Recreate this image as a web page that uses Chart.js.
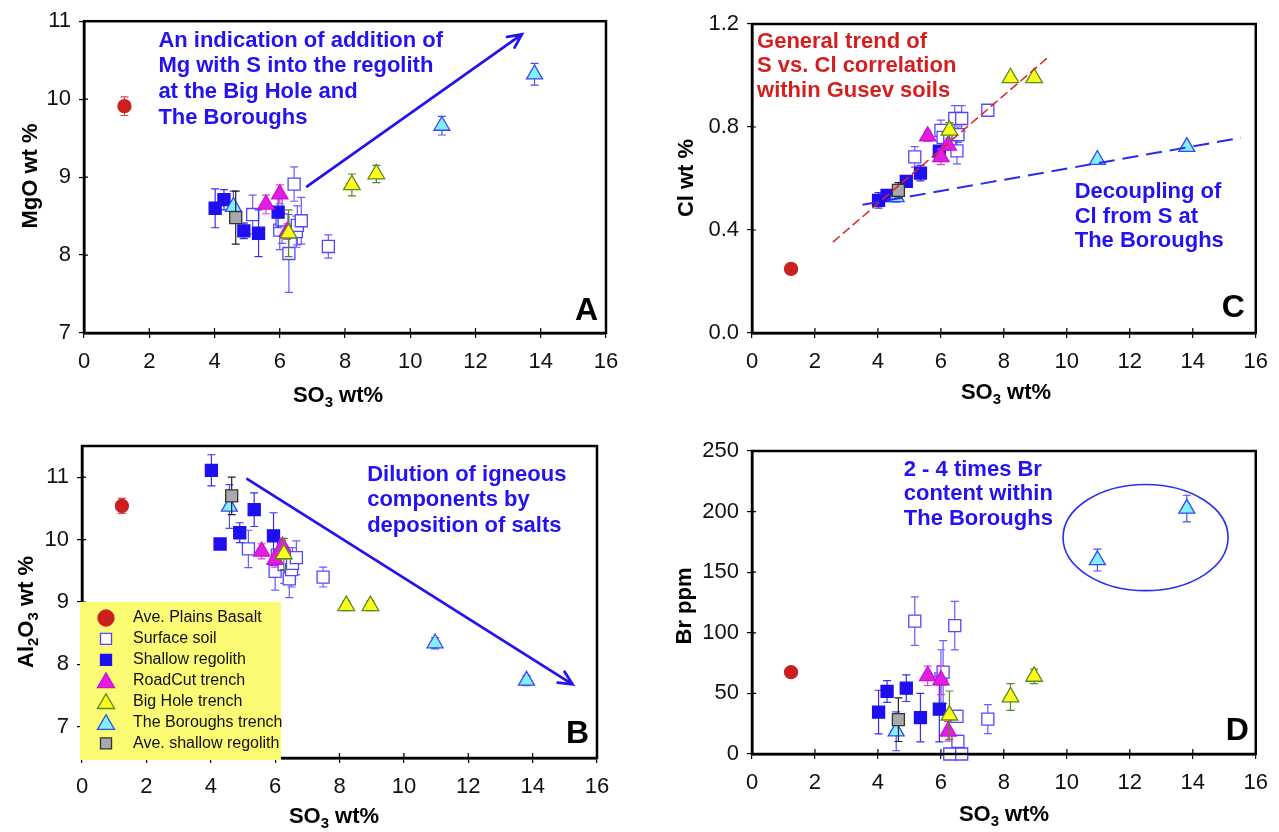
<!DOCTYPE html>
<html>
<head>
<meta charset="utf-8">
<script src="https://cdn.jsdelivr.net/npm/chart.js@4.4.1/dist/chart.umd.min.js"></script>
<style>
    html, body { margin: 0; padding: 0; background: #fff; }
    #wrap { position: relative; width: 1279px; height: 832px; overflow: hidden; }
    canvas { position: absolute; }
</style>
</head>
<body>
<div id="wrap">
    <canvas id="cA" width="640" height="416" style="left:0;top:0"></canvas>
    <canvas id="cC" width="639" height="416" style="left:640px;top:0"></canvas>
    <canvas id="cB" width="640" height="416" style="left:0;top:416px"></canvas>
    <canvas id="cD" width="639" height="416" style="left:640px;top:416px"></canvas>
</div>
<script>
// ---------- data ----------

// SO3 wt% of each sample group (x axis on every panel)
var basaltSO3     = [1.24];
var soilSO3       = [5.17, 6.00, 6.07, 6.28, 6.44, 6.51, 6.54, 6.66, 7.49];
var shallowSO3    = [4.02, 4.29, 4.90, 5.35, 5.95];
var roadcutSO3    = [5.58, 6.00, 6.23];
var bigholeSO3    = [6.27, 8.21, 8.96];
var boroughsSO3   = [4.58, 10.97, 13.81];
var aveShallowSO3 = [4.65];

// panel A: MgO wt% and 1-sigma
var basaltMgO     = [9.91];
var soilMgO       = [8.52, 8.32, 8.45, 8.02, 8.91, 8.30, 8.38, 8.44, 8.11];
var shallowMgO    = [8.60, 8.71, 8.31, 8.28, 8.55];
var roadcutMgO    = [8.65, 8.78, 8.30];
var bigholeMgO    = [8.28, 8.90, 9.04];
var boroughsMgO   = [8.62, 9.66, 10.32];
var aveShallowMgO = [8.48];
var basaltMgOErr     = [0.12];
var soilMgOErr       = [0.25, 0.25, 0.30, 0.50, 0.22, 0.20, 0.25, 0.30, 0.15];
var shallowMgOErr    = [0.25, 0.13, 0.10, 0.30, 0.20];
var roadcutMgOErr    = [0.12, 0.12, 0.10];
var bigholeMgOErr    = [0.30, 0.14, 0.11];
var boroughsMgOErr   = [0.20, 0.12, 0.14];
var aveShallowMgOErr = [0.34];

// panel B: Al2O3 wt%
var basaltAl     = [10.54];
var soilAl       = [9.85, 9.49, 9.75, 9.60, 9.37, 9.52, 9.62, 9.71, 9.40];
var shallowAl    = [11.11, 9.93, 10.11, 10.48, 10.06];
var roadcutAl    = [9.81, 9.68, 9.89];
var bigholeAl    = [9.77, 8.94, 8.94];
var boroughsAl   = [10.53, 8.34, 7.74];
var aveShallowAl = [10.70];
var basaltAlErr     = [0.12];
var soilAlErr       = [0.30, 0.30, 0.25, 0.30, 0.30, 0.28, 0.25, 0.27, 0.16];
var shallowAlErr    = [0.25, 0.08, 0.16, 0.27, 0.37];
var roadcutAlErr    = [0.12, 0.12, 0.10];
var bigholeAlErr    = [0.25, 0.08, 0.08];
var boroughsAlErr   = [0.35, 0.09, 0.08];
var aveShallowAlErr = [0.30];

// panel C: Cl wt%
var basaltCl     = [0.249];
var soilCl       = [0.684, 0.787, 0.760, 0.750, 0.833, 0.707, 0.770, 0.833, 0.865];
var shallowCl    = [0.515, 0.534, 0.589, 0.621, 0.706];
var roadcutCl    = [0.764, 0.684, 0.729];
var bigholeCl    = [0.787, 0.991, 0.991];
var boroughsCl   = [0.528, 0.673, 0.723];
var aveShallowCl = [0.554];
var basaltClErr     = [0.01];
var soilClErr       = [0.04, 0.04, 0.03, 0.03, 0.05, 0.05, 0.03, 0.05, 0.02];
var shallowClErr    = [0.03, 0.02, 0.02, 0.03, 0.02];
var roadcutClErr    = [0.02, 0.03, 0.02];
var bigholeClErr    = [0.03, 0.01, 0.01];
var boroughsClErr   = [0.02, 0.01, 0.01];
var aveShallowClErr = [0.03];

// panel D: Br ppm
var basaltBr     = [67.5];
var soilBr       = [109.7, 62, 67.5, 0, 105.9, 31, 10.4, 0, 28.8];
var shallowBr    = [34.6, 51.6, 54.3, 30, 37];
var roadcutBr    = [64.5, 61, 18.7];
var bigholeBr    = [32, 47, 64];
var boroughsBr   = [18.7, 160, 202.5];
var aveShallowBr = [28.3];
var basaltBrErr     = [4];
var soilBrErr       = [20, 24, 26, 3, 20, 5, 5, 3, 12];
var shallowBrErr    = [18, 9, 11, 20, 27];
var roadcutBrErr    = [8, 12, 8];
var bigholeBrErr    = [20, 11, 6];
var boroughsBrErr   = [16, 9, 11];
var aveShallowBrErr = [18];

// axis ticks
var so3Ticks = [0, 2, 4, 6, 8, 10, 12, 14, 16];
var mgoTicks = [7, 8, 9, 10, 11];
var alTicks  = [7, 8, 9, 10, 11];
var clTicks  = [0, 0.4, 0.8, 1.2];
var brTicks  = [0, 50, 100, 150, 200, 250];

// annotation geometry, in data units
var arrowA    = [[6.84, 8.88], [13.42, 10.83]];
var arrowB    = [[5.14, 10.97], [15.24, 7.68]];
var trendRed  = [[2.57, 0.353], [9.40, 1.07]];
var trendBlue = [[3.51, 0.498], [15.53, 0.758]];
var ellipseD  = [12.5, 178.6, 2.62, 43.8];   // cx, cy, rx, ry

// ---------- styling ----------
var FONT = '"Liberation Sans", Arial, Helvetica, sans-serif';
var TXT_BLUE = '#2412f0';
var TXT_RED = '#d41f1f';

// first entry is drawn on top
var series = [
    {key: 'aveShallow', label: 'Ave. shallow regolith', style: 'rect', r: 8.5, fill: '#a9a9a9', line: '#333333', bar: '#222222', lr: 7.8},
    {key: 'boroughs', label: 'The Boroughs trench', style: 'triangle', r: 9.2, fill: '#80f2ff', line: '#3a46ee', bar: '#4a50ee', lr: 9.8},
    {key: 'bighole', label: 'Big Hole trench', style: 'triangle', r: 9.6, fill: '#ffff1e', line: '#5a8a1a', bar: '#4f8a22', lr: 9.8},
    {key: 'roadcut', label: 'RoadCut trench', style: 'triangle', r: 9.4, fill: '#e21ee2', line: '#d010d0', bar: '#e040e0', lr: 9.8},
    {key: 'basalt', label: 'Ave. Plains Basalt', style: 'circle', r: 6.5, fill: '#cc1f1f', line: '#cc1f1f', bar: '#e04848', lr: 8},
    {key: 'shallow', label: 'Shallow regolith', style: 'rect', r: 8.5, fill: '#1d0ff0', line: '#1d0ff0', bar: '#3a2cf4', lr: 7.8},
    {key: 'soil', label: 'Surface soil', style: 'rect', r: 8.5, fill: '#ffffff', line: '#5446ff', bar: '#6a5cff', lr: 7.8}
];
var legendOrder = ['basalt', 'soil', 'shallow', 'roadcut', 'bighole', 'boroughs', 'aveShallow'];

var so3 = {basalt: basaltSO3, soil: soilSO3, shallow: shallowSO3, roadcut: roadcutSO3,
    bighole: bigholeSO3, boroughs: boroughsSO3, aveShallow: aveShallowSO3};

function buildDatasets(vals, errs) {
    return series.map(function (s) {
        return {
            label: s.label,
            data: so3[s.key].map(function (x, i) { return {x: x, y: vals[s.key][i]}; }),
            err: errs[s.key],
            barColor: s.bar,
            pointStyle: s.style,
            pointRadius: s.r,
            pointBackgroundColor: s.fill,
            pointBorderColor: s.line,
            pointBorderWidth: 1.3,
            clip: false
        };
    });
}

function trendSet(pts, color, dash, width) {
    return {
        data: pts.map(function (p) { return {x: p[0], y: p[1]}; }),
        showLine: true, pointRadius: 0, borderColor: color, borderWidth: width,
        borderDash: dash, fill: false, clip: false
    };
}

// ---------- drawing helpers ----------
function subWidth(ctx, parts, size) {
    var w = 0;
    parts.forEach(function (p) {
        ctx.font = 'bold ' + (p[1] ? Math.round(size * 0.68) : size) + 'px ' + FONT;
        w += ctx.measureText(p[0]).width;
    });
    return w;
}

// parts: [[text, isSubscript], ...], centred on cx, cy
function drawSubText(ctx, parts, size, cx, cy) {
    var x = cx - subWidth(ctx, parts, size) / 2;
    ctx.textAlign = 'left';
    ctx.textBaseline = 'middle';
    parts.forEach(function (p) {
        ctx.font = 'bold ' + (p[1] ? Math.round(size * 0.68) : size) + 'px ' + FONT;
        ctx.fillText(p[0], x, cy + (p[1] ? size * 0.32 : 0));
        x += ctx.measureText(p[0]).width;
    });
}

function drawArrow(ctx, x1, y1, x2, y2, color) {
    var ang = Math.atan2(y2 - y1, x2 - x1), len = 15, spread = 0.45;
    ctx.save();
    ctx.strokeStyle = color;
    ctx.lineWidth = 2.8;
    ctx.lineCap = 'round';
    ctx.beginPath();
    ctx.moveTo(x1, y1);
    ctx.lineTo(x2, y2);
    ctx.moveTo(x2 - len * Math.cos(ang - spread), y2 - len * Math.sin(ang - spread));
    ctx.lineTo(x2, y2);
    ctx.lineTo(x2 - len * Math.cos(ang + spread), y2 - len * Math.sin(ang + spread));
    ctx.stroke();
    ctx.restore();
}

var decoPlugin = {
    id: 'deco',
    beforeDatasetDraw: function (chart, args) {
        var ds = chart.data.datasets[args.index];
        if (!ds.err) return;
        var ctx = chart.ctx, xs = chart.scales.x, ys = chart.scales.y;
        ctx.save();
        ctx.strokeStyle = ds.barColor;
        ctx.lineWidth = 1.2;
        ds.data.forEach(function (p, i) {
            var e = ds.err[i];
            if (!e) return;
            var px = xs.getPixelForValue(p.x);
            var y1 = ys.getPixelForValue(p.y + e), y2 = ys.getPixelForValue(p.y - e);
            ctx.beginPath();
            ctx.moveTo(px, y1); ctx.lineTo(px, y2);
            ctx.moveTo(px - 4, y1); ctx.lineTo(px + 4, y1);
            ctx.moveTo(px - 4, y2); ctx.lineTo(px + 4, y2);
            ctx.stroke();
        });
        ctx.restore();
    },
    afterDraw: function (chart) {
        var o = chart.options.plugins.deco, ctx = chart.ctx, ca = chart.chartArea;
        var xs = chart.scales.x, ys = chart.scales.y;
        function px(v) { return xs.getPixelForValue(v); }
        function py(v) { return ys.getPixelForValue(v); }

        ctx.save();
        // frame and inner tick marks
        ctx.strokeStyle = '#000';
        ctx.lineWidth = 2.5;
        ctx.strokeRect(ca.left, ca.top, ca.right - ca.left, ca.bottom - ca.top);
        ctx.lineWidth = 1.2;
        ctx.beginPath();
        o.xTicks.forEach(function (v) { ctx.moveTo(px(v), ca.bottom); ctx.lineTo(px(v), ca.bottom - 5); });
        o.yTicks.forEach(function (v) { ctx.moveTo(ca.left, py(v)); ctx.lineTo(ca.left + 4, py(v)); });
        ctx.stroke();

        // arrows
        (o.arrows || []).forEach(function (a) {
            drawArrow(ctx, px(a[0][0]), py(a[0][1]), px(a[1][0]), py(a[1][1]), TXT_BLUE);
        });

        // ellipse
        if (o.ellipse) {
            var e = o.ellipse;
            var ex = px(e[0]), ey = py(e[1]);
            var rx = px(e[0] + e[2]) - ex, ry = ey - py(e[1] + e[3]);
            ctx.strokeStyle = '#2a30ee';
            ctx.lineWidth = 1.6;
            ctx.beginPath();
            ctx.ellipse(ex, ey, rx, ry, 0, 0, Math.PI * 2);
            ctx.stroke();
        }

        // text notes
        (o.notes || []).forEach(function (n) {
            ctx.fillStyle = n.color;
            ctx.font = 'bold 22px ' + FONT;
            ctx.textAlign = 'left';
            ctx.textBaseline = 'middle';
            var x0 = px(n.at[0]), y0 = py(n.at[1]);
            n.lines.forEach(function (t, i) { ctx.fillText(t, x0, y0 + i * n.step); });
        });

        // legend box
        if (o.legend) {
            var lg = o.legend;
            ctx.fillStyle = '#fbfb74';
            ctx.fillRect(ca.left - 2, lg.top, lg.right - ca.left + 2, ca.bottom + 2 - lg.top);
            legendOrder.forEach(function (k, i) {
                var s = series.filter(function (q) { return q.key === k; })[0];
                var yy = lg.top + 16 + i * 20.9;
                ctx.fillStyle = s.fill;
                ctx.strokeStyle = s.line;
                ctx.lineWidth = 1.3;
                Chart.helpers.drawPoint(ctx, {pointStyle: s.style, radius: s.lr, rotation: 0, borderWidth: 1.3},
                    ca.left + 24, yy + (s.style === 'triangle' ? 2 : 0));
                ctx.fillStyle = '#111';
                ctx.font = '16px ' + FONT;
                ctx.textAlign = 'left';
                ctx.textBaseline = 'middle';
                ctx.fillText(s.label, ca.left + 51, yy);
            });
        }

        // panel letter
        ctx.fillStyle = '#000';
        ctx.font = 'bold 32px ' + FONT;
        ctx.textAlign = 'right';
        ctx.textBaseline = 'alphabetic';
        ctx.fillText(o.letter, ca.right - o.letterInset[0], ca.bottom - o.letterInset[1]);

        // axis titles
        drawSubText(ctx, [['SO', 0], ['3', 1], [' wt%', 0]], 22, o.xTitleAt[0], o.xTitleAt[1]);
        ctx.translate(o.yTitleAt[0], o.yTitleAt[1]);
        ctx.rotate(-Math.PI / 2);
        drawSubText(ctx, o.yTitle, 22, 0, 0);
        ctx.restore();
    }
};

function makePanel(id, cfg) {
    var cv = document.getElementById(id);
    var H = cv.height;
    var fmt = cfg.fmt || function (v) { return String(v); };
    return new Chart(cv, {
        type: 'scatter',
        data: {datasets: (cfg.lines || []).concat(buildDatasets(cfg.vals, cfg.errs))},
        options: {
            responsive: false,
            animation: false,
            devicePixelRatio: 1,
            events: [],
            layout: {padding: {left: 0, top: cfg.box.top, right: cv.width - cfg.box.right, bottom: 0}},
            plugins: {
                legend: {display: false},
                tooltip: {enabled: false},
                deco: {
                    letter: cfg.letter, letterInset: cfg.letterInset,
                    xTicks: so3Ticks, yTicks: cfg.yTicks,
                    yTitle: cfg.yTitle, yTitleAt: cfg.yTitleAt, xTitleAt: cfg.xTitleAt,
                    arrows: cfg.arrows, notes: cfg.notes, ellipse: cfg.ellipse, legend: cfg.legend
                }
            },
            scales: {
                x: {
                    type: 'linear', min: 0, max: 16,
                    afterBuildTicks: function (s) { s.ticks = so3Ticks.map(function (v) { return {value: v}; }); },
                    afterFit: function (s) { s.height = H - cfg.box.bottom; },
                    ticks: {color: '#111', font: {family: FONT, size: 22}, padding: 11, maxRotation: 0, autoSkip: false},
                    grid: {drawOnChartArea: false, color: '#000', lineWidth: 1.2, tickLength: 5},
                    border: {color: '#000', width: 2.5}
                },
                y: {
                    type: 'linear', min: cfg.ymin, max: cfg.ymax,
                    afterBuildTicks: function (s) { s.ticks = cfg.yTicks.map(function (v) { return {value: v}; }); },
                    afterFit: function (s) { s.width = cfg.box.left; },
                    ticks: {color: '#111', font: {family: FONT, size: 22}, padding: 8, autoSkip: false,
                        callback: function (v) { return fmt(v); }},
                    grid: {drawOnChartArea: false, color: '#000', lineWidth: 1.2, tickLength: 5},
                    border: {color: '#000', width: 2.5}
                }
            }
        },
        plugins: [decoPlugin]
    });
}

// ---------- panels ----------
makePanel('cA', {
    box: {left: 84, right: 606, top: 18, bottom: 333},
    ymin: 7, ymax: 11, yTicks: mgoTicks,
    vals: {basalt: basaltMgO, soil: soilMgO, shallow: shallowMgO, roadcut: roadcutMgO, bighole: bigholeMgO, boroughs: boroughsMgO, aveShallow: aveShallowMgO},
    errs: {basalt: basaltMgOErr, soil: soilMgOErr, shallow: shallowMgOErr, roadcut: roadcutMgOErr, bighole: bigholeMgOErr, boroughs: boroughsMgOErr, aveShallow: aveShallowMgOErr},
    letter: 'A', letterInset: [8, 13],
    yTitle: [['MgO wt %', 0]], yTitleAt: [31, 176], xTitleAt: [338, 396],
    arrows: [arrowA],
    notes: [{color: TXT_BLUE, at: [2.28, 10.75], step: 25.6,
        lines: ['An indication of addition of', 'Mg with S into the regolith', 'at the Big Hole and', 'The Boroughs']}]
});

makePanel('cC', {
    box: {left: 112, right: 624, top: 24, bottom: 333},
    ymin: 0, ymax: 1.2, yTicks: clTicks, fmt: function (v) { return v.toFixed(1); },
    vals: {basalt: basaltCl, soil: soilCl, shallow: shallowCl, roadcut: roadcutCl, bighole: bigholeCl, boroughs: boroughsCl, aveShallow: aveShallowCl},
    errs: {basalt: basaltClErr, soil: soilClErr, shallow: shallowClErr, roadcut: roadcutClErr, bighole: bigholeClErr, boroughs: boroughsClErr, aveShallow: aveShallowClErr},
    lines: [trendSet(trendRed, '#e02222', [9, 4], 1.5), trendSet(trendBlue, '#2a2af0', [16, 8], 2)],
    letter: 'C', letterInset: [11, 16],
    yTitle: [['Cl wt %', 0]], yTitleAt: [47, 178], xTitleAt: [366, 393],
    notes: [
        {color: TXT_RED, at: [0.16, 1.131], step: 24.5,
            lines: ['General trend of', 'S vs. Cl correlation', 'within Gusev soils']},
        {color: TXT_BLUE, at: [10.25, 0.547], step: 24.5,
            lines: ['Decoupling of', 'Cl from S at', 'The Boroughs']}
    ]
});

makePanel('cB', {
    box: {left: 82, right: 597, top: 30, bottom: 342},
    ymin: 6.5, ymax: 11.5, yTicks: alTicks,
    vals: {basalt: basaltAl, soil: soilAl, shallow: shallowAl, roadcut: roadcutAl, bighole: bigholeAl, boroughs: boroughsAl, aveShallow: aveShallowAl},
    errs: {basalt: basaltAlErr, soil: soilAlErr, shallow: shallowAlErr, roadcut: roadcutAlErr, bighole: bigholeAlErr, boroughs: boroughsAlErr, aveShallow: aveShallowAlErr},
    letter: 'B', letterInset: [8, 15],
    yTitle: [['Al', 0], ['2', 1], ['O', 0], ['3', 1], [' wt %', 0]], yTitleAt: [27, 196], xTitleAt: [334, 401],
    arrows: [arrowB],
    notes: [{color: TXT_BLUE, at: [8.86, 11.04], step: 25.5,
        lines: ['Dilution of igneous', 'components by', 'deposition of salts']}],
    legend: {top: 186, right: 281}
});

makePanel('cD', {
    box: {left: 112, right: 622, top: 35, bottom: 338},
    ymin: 0, ymax: 250, yTicks: brTicks,
    vals: {basalt: basaltBr, soil: soilBr, shallow: shallowBr, roadcut: roadcutBr, bighole: bigholeBr, boroughs: boroughsBr, aveShallow: aveShallowBr},
    errs: {basalt: basaltBrErr, soil: soilBrErr, shallow: shallowBrErr, roadcut: roadcutBrErr, bighole: bigholeBrErr, boroughs: boroughsBrErr, aveShallow: aveShallowBrErr},
    letter: 'D', letterInset: [7, 14],
    yTitle: [['Br ppm', 0]], yTitleAt: [45, 190], xTitleAt: [364, 399],
    ellipse: ellipseD,
    notes: [{color: TXT_BLUE, at: [4.82, 234.6], step: 24.7,
        lines: ['2 - 4 times Br', 'content within', 'The Boroughs']}]
});
</script>
</body>
</html>
